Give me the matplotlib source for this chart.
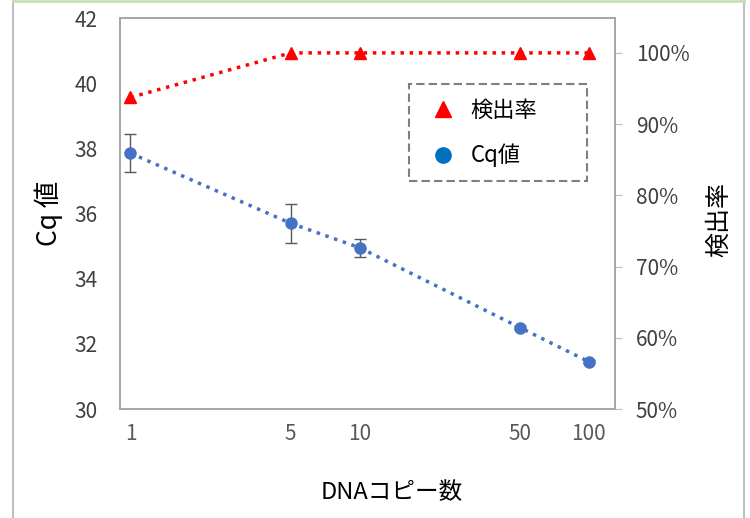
import matplotlib
matplotlib.use('Agg')
import matplotlib.pyplot as plt
from matplotlib.ticker import FuncFormatter, FixedLocator, NullLocator
from matplotlib.lines import Line2D
from matplotlib.patches import Rectangle

plt.rcParams['font.family'] = ['Noto Sans CJK JP', 'DejaVu Sans']

copies = [1, 5, 10, 50, 100]
cq_values = [37.85, 35.7, 34.95, 32.5, 31.45]
cq_errors = [0.58, 0.6, 0.28, 0.06, 0.05]
detection_rate = [0.9375, 1.0, 1.0, 1.0, 1.0]
x_tick_labels = ['1', '5', '10', '50', '100']

W, H = 750, 518
fig = plt.figure(figsize=(W / 100, H / 100), dpi=100)
ax = fig.add_axes([120 / W, 1 - 409 / H, 495 / W, 391 / H])
ax2 = ax.twinx()

ax.set_xscale('log')
ax.set_xlim(0.9, 130)
ax.set_ylim(30, 42)
ax.set_yticks(range(30, 43, 2))
ax.xaxis.set_major_locator(FixedLocator(copies))
ax.xaxis.set_minor_locator(NullLocator())
ax.set_xticklabels(x_tick_labels)
ax.tick_params(axis='x', length=0, pad=10, labelsize=15, labelcolor='#595959')
ax.tick_params(axis='y', length=0, pad=16, labelsize=15, labelcolor='#404040')

ax2.set_ylim(0.5, 1.049)
ax2.set_yticks([0.5, 0.6, 0.7, 0.8, 0.9, 1.0])
ax2.yaxis.set_major_formatter(FuncFormatter(lambda v, p: f'{v * 100:.0f}%'))
ax2.tick_params(axis='y', length=5, color='#bfbfbf', pad=10, labelsize=15, labelcolor='#404040')

for a in (ax, ax2):
    for s in a.spines.values():
        s.set_color('#a6a6a6')
        s.set_linewidth(1.2)

blue = '#4472c4'
red = '#ff0000'

ax.errorbar(copies, cq_values, yerr=cq_errors, fmt='none', ecolor='#595959',
            elinewidth=1, capsize=4, capthick=1, zorder=3)
ax.plot(copies, cq_values, linestyle=':', color=blue, linewidth=2.5, zorder=4)
ax.plot(copies, cq_values, linestyle='none', marker='o', markersize=8, color=blue, zorder=5)

ax2.plot(copies, detection_rate, linestyle=':', color=red, linewidth=2.5, zorder=4)
ax2.plot(copies, detection_rate, linestyle='none', marker='^', markersize=9, color=red, zorder=5)

ax.set_ylabel('Cq 値', fontsize=19, va='center', ha='center')
ax.yaxis.set_label_coords((49 - 120) / 495, (409 - 213) / 391)
ax2.set_ylabel('検出率', fontsize=18, rotation=90, va='center', ha='center')
ax2.yaxis.set_label_coords((719 - 120) / 495, (409 - 220) / 391)
ax.set_xlabel('DNAコピー数', fontsize=17)
ax.xaxis.set_label_coords((392 - 120) / 495, (409 - 493) / 391)
ax.xaxis.label.set_va('center')

handles = [
    Line2D([], [], linestyle='none', marker='^', markersize=12, color=red),
    Line2D([], [], linestyle='none', marker='o', markersize=11, color='#0070c0'),
]
leg = ax2.legend(handles, ['検出率', 'Cq値'], loc='center left',
                 bbox_to_anchor=((426 - 120) / 495, (409 - 133) / 391), fontsize=16,
                 frameon=False, borderpad=0, labelspacing=1.0,
                 handletextpad=0.5, handlelength=1.5, borderaxespad=0)

# dashed legend box
ax2.add_patch(Rectangle(((409 - 120) / 495, (409 - 181) / 391), 178 / 495, 97 / 391,
                        transform=ax2.transAxes, fill=False, edgecolor='#7f7f7f',
                        linestyle=(0, (4, 2)), linewidth=1.5, zorder=6))

# outer chart border
fig.add_artist(Line2D([13 / W, 13 / W], [0, 1], color='#bfbfbf', linewidth=1.5))
fig.add_artist(Line2D([744 / W, 744 / W], [0, 1], color='#bfbfbf', linewidth=1.5))
fig.add_artist(Line2D([13 / W, 744 / W], [0.998, 0.998], color='#c6e0b4', linewidth=2))

fig.savefig('out.png', dpi=100)
